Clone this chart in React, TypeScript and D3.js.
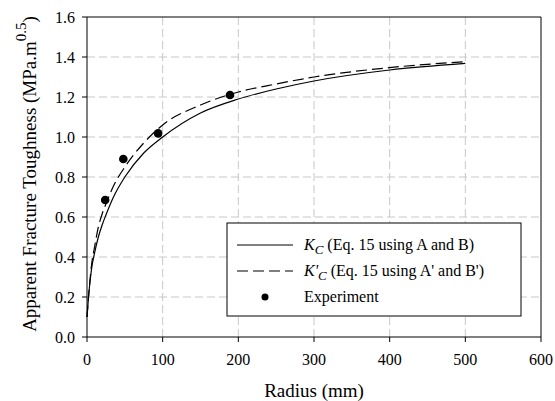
import { useMemo } from 'react';
import * as d3 from 'd3';

const WIDTH = 555;
const HEIGHT = 401;
const MARGIN = { top: 17, right: 14, bottom: 64, left: 87 };
const FONT = 'Liberation Serif';

// radius (mm) sampled along the two model curves
const radius = [0, 2, 6, 10, 15, 20, 25, 35, 50, 75, 100, 150, 200, 250, 300, 400, 500];
// Kc, Eq. 15 using A and B
const kcValues = [0.1, 0.2, 0.34, 0.42, 0.5, 0.56, 0.61, 0.7, 0.8, 0.92, 1.0, 1.12, 1.19, 1.24, 1.28, 1.335, 1.368];
// K'c, Eq. 15 using A' and B'
const kcPrimeValues = [0.1, 0.2, 0.36, 0.45, 0.55, 0.615, 0.665, 0.755, 0.85, 0.97, 1.06, 1.16, 1.225, 1.265, 1.3, 1.347, 1.377];
// experiment
const expRadius = [24, 48, 94, 189];
const expToughness = [0.685, 0.89, 1.018, 1.21];

const xTicks = [0, 100, 200, 300, 400, 500, 600];
const yTicks = [0, 0.2, 0.4, 0.6, 0.8, 1.0, 1.2, 1.4, 1.6];

const App = () => {
  const boundsWidth = WIDTH - MARGIN.left - MARGIN.right;
  const boundsHeight = HEIGHT - MARGIN.top - MARGIN.bottom;

  const xScale = useMemo(() => {
    return d3.scaleLinear().domain([0, 600]).range([0, boundsWidth]);
  }, [boundsWidth]);

  const yScale = useMemo(() => {
    return d3.scaleLinear().domain([0, 1.6]).range([boundsHeight, 0]);
  }, [boundsHeight]);

  const line = d3
    .line<[number, number]>()
    .x(d => xScale(d[0]))
    .y(d => yScale(d[1]))
    .curve(d3.curveMonotoneX);

  const kcPath = line(radius.map((r, i) => [r, kcValues[i]]));
  const kcPrimePath = line(radius.map((r, i) => [r, kcPrimeValues[i]]));

  // grid lines (skip the ones sitting on the frame)
  const xGrid = xTicks.slice(1, -1).map(t => (
    <line
      key={`xg-${t}`}
      x1={xScale(t)}
      x2={xScale(t)}
      y1={0}
      y2={boundsHeight}
      stroke="#c8c8c8"
      strokeDasharray="8,4"
    />
  ));

  const yGrid = yTicks.slice(1, -1).map(t => (
    <line
      key={`yg-${t}`}
      x1={0}
      x2={boundsWidth}
      y1={yScale(t)}
      y2={yScale(t)}
      stroke="#c8c8c8"
      strokeDasharray="8,4"
    />
  ));

  const xLabels = xTicks.map(t => (
    <g key={`xl-${t}`}>
      <line x1={xScale(t)} x2={xScale(t)} y1={boundsHeight} y2={boundsHeight + 5} stroke="black" />
      <text x={xScale(t)} y={boundsHeight + 28} textAnchor="middle" fontSize={16}>
        {t}
      </text>
    </g>
  ));

  const yLabels = yTicks.map(t => (
    <g key={`yl-${t}`}>
      <line x1={-5} x2={0} y1={yScale(t)} y2={yScale(t)} stroke="black" />
      <text x={-12} y={yScale(t)} dy="0.35em" textAnchor="end" fontSize={16}>
        {t.toFixed(1)}
      </text>
    </g>
  ));

  const dots = expRadius.map((r, i) => (
    <circle key={`pt-${r}`} cx={xScale(r)} cy={yScale(expToughness[i])} r={4.3} fill="black" />
  ));

  // legend, placed in the lower right of the plot
  const lg = { x: 140, y: 206, w: 294, h: 93 };

  return (
    <svg
      width={WIDTH}
      height={HEIGHT}
      style={{ position: 'absolute', left: 0, top: 0, background: 'white' }}
    >
      <g transform={`translate(${MARGIN.left},${MARGIN.top})`} fontFamily={FONT}>
        {xGrid}
        {yGrid}
        <path d={kcPath ?? ''} fill="none" stroke="black" strokeWidth={1.2} />
        <path d={kcPrimePath ?? ''} fill="none" stroke="black" strokeWidth={1.2} strokeDasharray="11,5" />
        {dots}

        <g transform={`translate(${lg.x},${lg.y})`}>
          <rect width={lg.w} height={lg.h} fill="white" stroke="black" />
          <line x1={10} x2={66} y1={22} y2={22} stroke="black" strokeWidth={1.2} />
          <text x={77} y={27} fontSize={16}>
            <tspan fontStyle="italic">K</tspan>
            <tspan fontStyle="italic" fontSize={13} dy={4}>C</tspan>
            <tspan dy={-4}> (Eq. 15 using A and B)</tspan>
          </text>
          <line x1={10} x2={66} y1={48} y2={48} stroke="black" strokeWidth={1.2} strokeDasharray="11,5" />
          <text x={77} y={53} fontSize={16}>
            <tspan fontStyle="italic">K'</tspan>
            <tspan fontStyle="italic" fontSize={13} dy={4}>C</tspan>
            <tspan dy={-4}> (Eq. 15 using A' and B')</tspan>
          </text>
          <circle cx={38} cy={74} r={3.5} fill="black" />
          <text x={77} y={79} fontSize={16}>Experiment</text>
        </g>

        <line x1={0} x2={boundsWidth} y1={0} y2={0} stroke="black" />
        <line x1={boundsWidth} x2={boundsWidth} y1={0} y2={boundsHeight} stroke="black" />
        <line x1={0} x2={0} y1={0} y2={boundsHeight} stroke="black" />
        <line x1={0} x2={boundsWidth} y1={boundsHeight} y2={boundsHeight} stroke="black" />
        {xLabels}
        {yLabels}

        <text x={boundsWidth / 2} y={boundsHeight + 60} textAnchor="middle" fontSize={19}>
          Radius (mm)
        </text>
        <text
          transform={`translate(${-51},${boundsHeight / 2 - 3}) rotate(-90)`}
          textAnchor="middle"
          fontSize={19}
        >
          Apparent Fracture Toughness (MPa.m
          <tspan fontSize={15} dy={-10}>0.5</tspan>
          <tspan dy={10}>)</tspan>
        </text>
      </g>
    </svg>
  );
};

export default App;
